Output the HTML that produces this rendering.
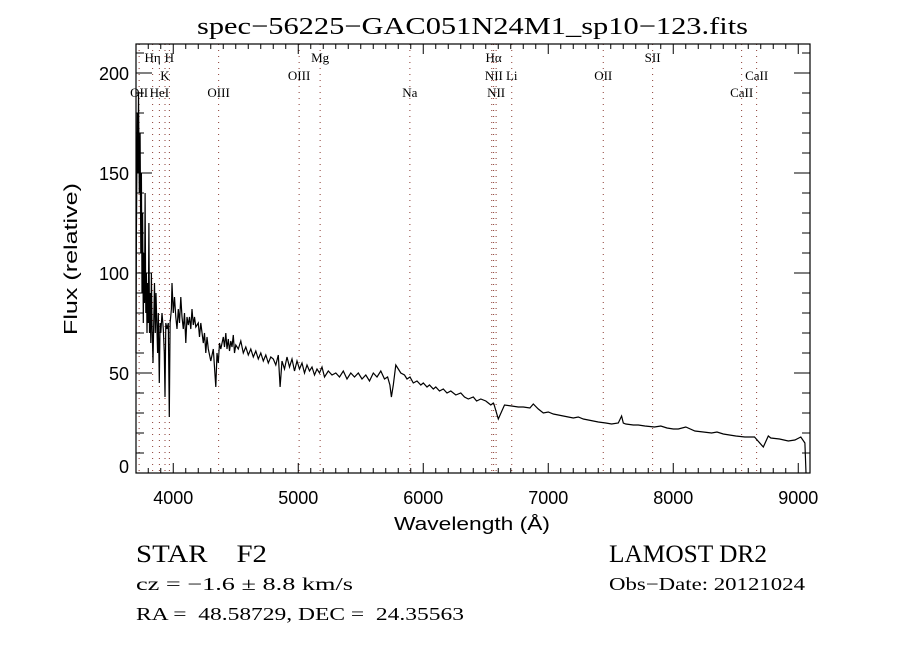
<!DOCTYPE html>
<html><head><meta charset="utf-8"><style>
html,body{margin:0;padding:0;background:#fff;}
svg{display:block;}
text{white-space:pre;}
.ser{font-family:"Liberation Serif",serif;fill:#000;}
.sans{font-family:"Liberation Sans",sans-serif;fill:#000;}
</style></head><body>
<svg id="chart" width="900" height="650" viewBox="0 0 900 650" xmlns="http://www.w3.org/2000/svg" xml:space="preserve">
<rect width="900" height="650" fill="#fff"/>
<text class="ser" x="197" y="34" font-size="24" textLength="551" lengthAdjust="spacingAndGlyphs">spec−56225−GAC051N24M1_sp10−123.fits</text>
<g id="lines"></g>
<g id="spec"></g>
<rect x="136" y="44" width="674" height="429" fill="none" stroke="#000" stroke-width="1.2"/>
<g id="ticks"></g>
<text class="sans" x="394" y="530" font-size="18" textLength="156" lengthAdjust="spacingAndGlyphs">Wavelength (Å)</text>
<text class="sans" transform="translate(77,335) rotate(-90)" font-size="18" textLength="152" lengthAdjust="spacingAndGlyphs">Flux (relative)</text>
<text class="ser" x="136" y="562" font-size="25" textLength="131" lengthAdjust="spacingAndGlyphs">STAR    F2</text>
<text class="ser" x="609" y="562" font-size="25" textLength="158" lengthAdjust="spacingAndGlyphs">LAMOST DR2</text>
<text class="ser" x="136" y="590" font-size="18" textLength="217" lengthAdjust="spacingAndGlyphs">cz = −1.6 ± 8.8 km/s</text>
<text class="ser" x="609" y="590" font-size="18" textLength="196" lengthAdjust="spacingAndGlyphs">Obs−Date: 20121024</text>
<text class="ser" x="136" y="620" font-size="18" textLength="328" lengthAdjust="spacingAndGlyphs">RA =  48.58729, DEC =  24.35563</text>
</svg>
<script>
const wavelengths=[3702,3705,3712,3718,3722,3728,3735,3740,3745,3750,3755,3760,3765,3770,3775,3780,3785,3790,3795,3800,3805,3810,3815,3820,3825,3830,3838,3845,3850,3856,3862,3868,3875,3880,3888,3895,3900,3910,3920,3928,3934,3940,3950,3960,3968,3975,3985,3990,4000,4010,4020,4030,4040,4050,4060,4070,4080,4090,4100,4110,4120,4130,4140,4150,4160,4170,4180,4200,4210,4220,4240,4250,4260,4270,4280,4300,4320,4340,4350,4360,4370,4380,4400,4410,4420,4430,4440,4450,4460,4470,4480,4490,4500,4520,4540,4560,4580,4600,4620,4640,4660,4680,4700,4720,4740,4760,4780,4800,4820,4840,4855,4870,4890,4910,4930,4950,4970,4990,5010,5030,5050,5070,5090,5110,5130,5150,5170,5190,5210,5240,5270,5300,5330,5360,5390,5420,5450,5480,5510,5540,5570,5600,5630,5660,5690,5715,5733,5745,5760,5780,5800,5820,5850,5870,5894,5920,5950,5980,6000,6030,6050,6080,6100,6130,6160,6190,6220,6260,6300,6330,6360,6400,6427,6460,6500,6520,6540,6560,6565,6600,6650,6707,6760,6800,6853,6880,6920,6960,7000,7040,7080,7120,7160,7200,7240,7280,7320,7360,7400,7460,7507,7560,7587,7600,7620,7680,7720,7773,7850,7900,7950,8000,8040,8100,8173,8240,8307,8350,8400,8450,8500,8573,8650,8720,8760,8780,8850,8920,8973,9020,9053,9062,9067];
const flux=[60,120,180,150,190,140,170,110,150,90,130,75,110,85,140,80,100,70,95,75,125,70,90,65,100,75,55,80,95,70,90,75,60,80,45,75,70,80,72,60,38,75,72,75,28,75,82,95,80,88,78,72,82,75,88,78,72,80,65,78,74,78,72,82,74,78,73,75,68,75,65,70,60,68,62,56,62,43,60,55,65,62,68,63,70,62,67,61,66,63,69,60,64,62,66,60,63,59,62,58,61,57,60,56,59,55,58,57,54,59,43,56,52,58,53,57,51,56,52,55,50,54,51,53,49,52,50,53,48,51,49,50,48,51,47,50,48,50,47,49,46,50,48,51,47,48,44,38,44,54,52,50,49,47,48,45,46,44,45,43,44,42,43,41,42,40,41,39,40,38,37,38,36,37,36,35,34,35,34.5,27,34,33.5,33,33,32.5,34.5,32,30,30.5,29.5,29,28.5,28,27.5,28,27,26.5,26,25.5,25,24.5,25,28.5,25,24.5,24,24,23.5,23,23.5,22.5,22,22,23,21,20.5,20,20.5,19.5,19,18.5,18,18,13,18.5,17.5,17,16,16.5,18,15,0];
const lineWave=[3727,3835,3889,3934,3969,4363,5007,5175,5893,6548,6563,6583,6708,7440,7835,8547,8667];
const lineLabels=[["OII",3727,3],["Hη",3835,1],["H",3969,1],["K",3934,2],["HeI",3889,3],["OIII",4363,3],["OIII",5007,2],["Mg",5175,1],["Na",5893,3],["Hα",6563,1],["NII",6565,2],["Li",6708,2],["NII",6583,3],["OII",7440,2],["SII",7835,1],["CaII",8667,2],["CaII",8547,3]];
const xTicks=[4000,5000,6000,7000,8000,9000];
const yTicks=[0,50,100,150,200];
const X0=3702,X1=9094,Y0=0,Y1=214.5;
const L=136,R=810,T=44,B=473;
function sx(w){return L+(w-X0)/(X1-X0)*(R-L);}
function sy(f){return B-(f-Y0)/(Y1-Y0)*(B-T);}
const NS="http://www.w3.org/2000/svg";
function mk(tag,parent){const e=document.createElementNS(NS,tag);parent.appendChild(e);return e;}
const lg=document.getElementById('lines');
lineWave.forEach(w=>{
  const l=mk('line',lg);
  
  
  l.setAttribute('x1',sx(w));l.setAttribute('x2',sx(w));l.setAttribute('y1',T);l.setAttribute('y2',B);
  l.setAttribute('stroke','#8a3a30');l.setAttribute('stroke-width','1');l.setAttribute('stroke-dasharray','1 5');
});
lineLabels.forEach(d=>{
  const t=mk('text',lg);
  
  
  t.setAttribute('class','ser');
  t.setAttribute('x',sx(d[1]));t.setAttribute('y',[0,62,80,97][d[2]]);
  t.setAttribute('text-anchor','middle');t.setAttribute('font-size','13');
  t.textContent=d[0];
});
const sg=document.getElementById('spec');
const p=mk('polyline',sg);


p.setAttribute('points',wavelengths.map((w,i)=>sx(w).toFixed(1)+','+sy(flux[i]).toFixed(1)).join(' '));
p.setAttribute('fill','none');p.setAttribute('stroke','#000');p.setAttribute('stroke-width','1.2');
const tg=document.getElementById('ticks');
function ln(x1,y1,x2,y2,name){const l=mk('line',tg);
  
  
  l.setAttribute('x1',x1);l.setAttribute('y1',y1);l.setAttribute('x2',x2);l.setAttribute('y2',y2);l.setAttribute('stroke','#000');l.setAttribute('stroke-width','1');}
for(let w=3800;w<=9000;w+=100){const maj=w%1000===0;const x=sx(w);const len=maj?10:5;
  ln(x,B,x,B-len,'x-tick');ln(x,T,x,T+len,'x-tick');}
for(let f=0;f<=210;f+=10){const maj=f%50===0;const y=sy(f);const len=maj?16:8;
  ln(L,y,L+len,y,'y-tick');ln(R,y,R-len,y,'y-tick');}
xTicks.forEach(w=>{const t=mk('text',tg);
  
  
  t.setAttribute('class','sans');t.setAttribute('x',sx(w));t.setAttribute('y',504);t.setAttribute('text-anchor','middle');t.setAttribute('font-size','18');t.textContent=w;});
yTicks.forEach(f=>{const t=mk('text',tg);
  
  
  t.setAttribute('class','sans');t.setAttribute('x',129);t.setAttribute('y',Math.min(sy(f)+7,473));t.setAttribute('text-anchor','end');t.setAttribute('font-size','18');t.textContent=f;});
</script>
</body></html>
